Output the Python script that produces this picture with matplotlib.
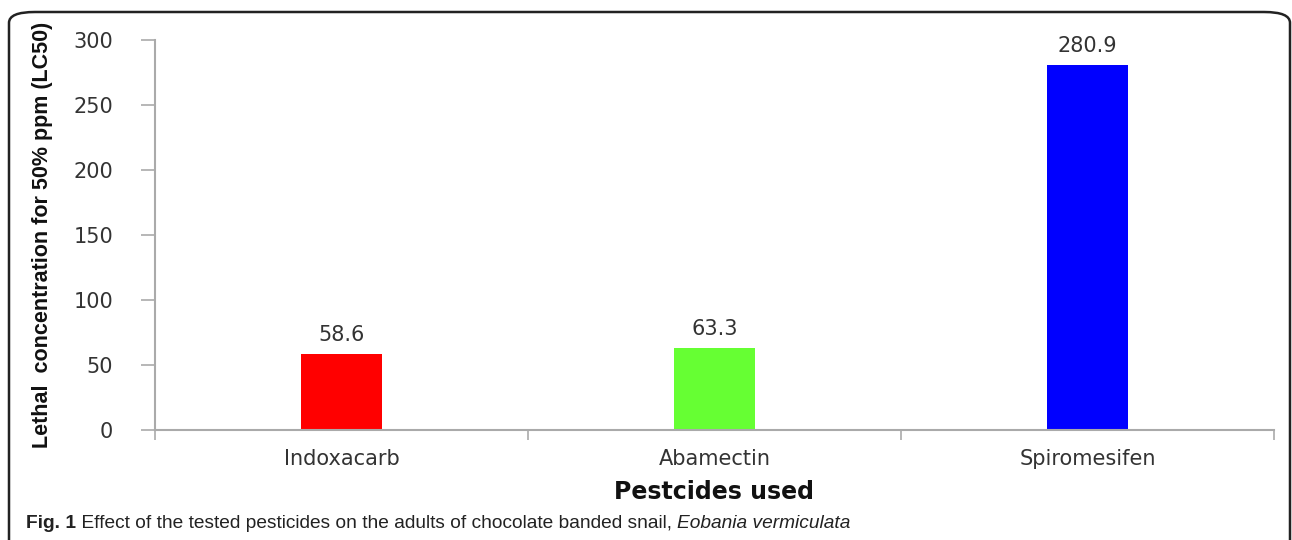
import matplotlib
matplotlib.use("Agg")
import matplotlib.pyplot as plt
from matplotlib.patches import FancyBboxPatch

pesticides = ["Indoxacarb", "Abamectin", "Spiromesifen"]
lc50 = [58.6, 63.3, 280.9]
bar_colors = ["#ff0000", "#66ff33", "#0000ff"]
yticks = [0, 50, 100, 150, 200, 250, 300]

narrow = ["Liberation Sans Narrow", "Liberation Sans", "DejaVu Sans"]

fig = plt.figure(figsize=(12.92, 5.4), dpi=100)
ax = fig.add_axes([155 / 1292, 1 - 430 / 540, (1274 - 155) / 1292, (430 - 40) / 540])

x = range(len(pesticides))
ax.bar(x, lc50, width=0.215, color=bar_colors, zorder=2)
for i, v in enumerate(lc50):
    ax.annotate(f"{v:.1f}", (i, v), xytext=(0, 6), textcoords="offset points",
                ha="center", va="bottom", fontsize=15, color="#333333")

ax.set_xlim(-0.5, 2.5)
ax.set_ylim(0, 300)
ax.set_yticks(yticks)
ax.set_xticks([-0.5, 0.5, 1.5, 2.5])
ax.set_xticklabels([])
ax.set_xticks(list(x), minor=True)
ax.set_xticklabels(pesticides, minor=True, fontsize=15, color="#333333")
ax.tick_params(axis="x", which="minor", length=0, pad=14)
ax.tick_params(axis="x", which="major", length=7, width=1.2, color="#aaaaaa", direction="out")
ax.tick_params(axis="y", length=10, width=1.2, color="#aaaaaa", direction="out",
               labelsize=15, labelcolor="#333333", pad=20)
for s in ["top", "right"]:
    ax.spines[s].set_visible(False)
for s in ["left", "bottom"]:
    ax.spines[s].set_color("#aaaaaa")
    ax.spines[s].set_linewidth(1.5)

ax.set_ylabel("Lethal  concentration for 50% ppm (LC50)", family=narrow,
              fontsize=15.5, fontweight="bold", color="#111111")
ax.yaxis.set_label_coords(-112 / 1119, 0.5)
ax.yaxis.label.set_va("center")
ax.set_xlabel("Pestcides used", fontsize=17, fontweight="bold", color="#111111")
ax.xaxis.set_label_coords((714 - 155) / 1119, -62 / 390)
ax.xaxis.label.set_va("center")

# rounded frame around the figure, open at the bottom edge
frame = FancyBboxPatch((9 / 1292, -0.2), (1290 - 9) / 1292, 1.2 - 12 / 540,
                       boxstyle="round,pad=0,rounding_size=0.02", transform=fig.transFigure,
                       fill=False, edgecolor="#222222", linewidth=1.8, clip_on=False)
fig.patches.append(frame)

t1 = fig.text(26 / 1292, 1 - 528 / 540, "Fig. 1", family=narrow, fontsize=13.8,
              fontweight="bold", color="#222222")
t2 = ax.annotate(" Effect of the tested pesticides on the adults of chocolate banded snail, ",
                 xy=(1, 0), xycoords=t1, family=narrow, fontsize=13.8, color="#222222",
                 va="bottom", annotation_clip=False)
ax.annotate("Eobania vermiculata", xy=(1, 0), xycoords=t2, family=narrow, fontsize=13.8,
            style="italic", color="#222222", va="bottom", annotation_clip=False)

plt.savefig("out.png", dpi=100)
